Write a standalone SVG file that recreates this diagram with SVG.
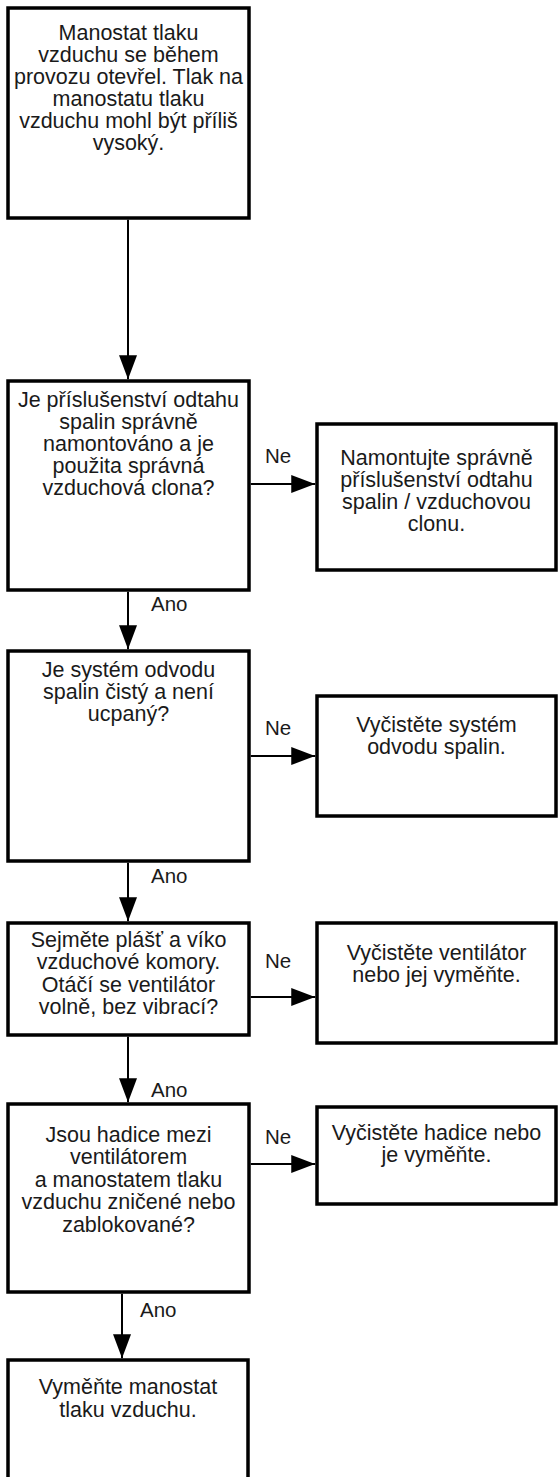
<svg xmlns="http://www.w3.org/2000/svg" width="558" height="1477" viewBox="0 0 558 1477">
  <style>
    .box { fill: #ffffff; stroke: #000000; stroke-width: 3.5; }
    .txt { font-family: "Liberation Sans", Arial, Helvetica, sans-serif; font-size: 21.5px; fill: #1a1a1a; text-anchor: middle; }
    .lbl { font-family: "Liberation Sans", Arial, Helvetica, sans-serif; font-size: 20.5px; fill: #1a1a1a; }
    .mid { text-anchor: middle; }
    .con { fill: none; stroke: #000000; stroke-width: 2; marker-end: url(#arrow); }
  </style>
  <defs>
    <marker id="arrow" viewBox="0 0 24 18" refX="24" refY="9" markerWidth="24" markerHeight="18" markerUnits="userSpaceOnUse" orient="auto">
      <path d="M0,0 L24,9 L0,18 Z" fill="#000000"/>
    </marker>
  </defs>
  <rect width="558" height="1477" fill="#ffffff"/>

  <g id="connectors">
    <line class="con" x1="128" y1="219.75" x2="128" y2="379.25"/>
    <line class="con" x1="250.75" y1="484" x2="315.25" y2="484"/>
    <text class="lbl mid" x="278" y="463">Ne</text>
    <line class="con" x1="128" y1="591.75" x2="128" y2="649.25"/>
    <text class="lbl" x="151" y="611">Ano</text>
    <line class="con" x1="250.75" y1="756" x2="315.25" y2="756"/>
    <text class="lbl mid" x="278" y="735">Ne</text>
    <line class="con" x1="128" y1="862.75" x2="128" y2="921.25"/>
    <text class="lbl" x="151" y="883">Ano</text>
    <line class="con" x1="250.75" y1="997" x2="315.25" y2="997"/>
    <text class="lbl mid" x="278" y="968">Ne</text>
    <line class="con" x1="128" y1="1036.75" x2="128" y2="1102.25"/>
    <text class="lbl" x="151" y="1097">Ano</text>
    <line class="con" x1="250.75" y1="1164" x2="315.25" y2="1164"/>
    <text class="lbl mid" x="278" y="1144">Ne</text>
    <line class="con" x1="122" y1="1293.75" x2="122" y2="1358.25"/>
    <text class="lbl" x="140" y="1317">Ano</text>
  </g>

  <g id="n1">
    <rect class="box" x="8" y="8" width="241" height="210"/>
    <text class="txt" x="128.5" y="39.5">Manostat tlaku</text>
    <text class="txt" x="128.5" y="61.6">vzduchu se během</text>
    <text class="txt" x="128.5" y="83.7">provozu otevřel. Tlak na</text>
    <text class="txt" x="128.5" y="105.8">manostatu tlaku</text>
    <text class="txt" x="128.5" y="127.9">vzduchu mohl být příliš</text>
    <text class="txt" x="128.5" y="150">vysoký.</text>
  </g>

  <g id="n2">
    <rect class="box" x="8" y="381" width="241" height="209"/>
    <text class="txt" x="128.5" y="406.5">Je příslušenství odtahu</text>
    <text class="txt" x="128.5" y="428.5">spalin správně</text>
    <text class="txt" x="128.5" y="450.5">namontováno a je</text>
    <text class="txt" x="128.5" y="472.5">použita správná</text>
    <text class="txt" x="128.5" y="494.5">vzduchová clona?</text>
  </g>

  <g id="n3">
    <rect class="box" x="317" y="424" width="239" height="146"/>
    <text class="txt" x="436.5" y="465">Namontujte správně</text>
    <text class="txt" x="436.5" y="487">příslušenství odtahu</text>
    <text class="txt" x="436.5" y="509">spalin / vzduchovou</text>
    <text class="txt" x="436.5" y="531">clonu.</text>
  </g>

  <g id="n4">
    <rect class="box" x="8" y="651" width="241" height="210"/>
    <text class="txt" x="128.5" y="677">Je systém odvodu</text>
    <text class="txt" x="128.5" y="699">spalin čistý a není</text>
    <text class="txt" x="128.5" y="721">ucpaný?</text>
  </g>

  <g id="n5">
    <rect class="box" x="317" y="696" width="239" height="120"/>
    <text class="txt" x="436.5" y="732">Vyčistěte systém</text>
    <text class="txt" x="436.5" y="754">odvodu spalin.</text>
  </g>

  <g id="n6">
    <rect class="box" x="8" y="923" width="241" height="112"/>
    <text class="txt" x="128.5" y="947">Sejměte plášť a víko</text>
    <text class="txt" x="128.5" y="969">vzduchové komory.</text>
    <text class="txt" x="128.5" y="991.5">Otáčí se ventilátor</text>
    <text class="txt" x="128.5" y="1013.5">volně, bez vibrací?</text>
  </g>

  <g id="n7">
    <rect class="box" x="317" y="923" width="239" height="120"/>
    <text class="txt" x="436.5" y="960">Vyčistěte ventilátor</text>
    <text class="txt" x="436.5" y="982">nebo jej vyměňte.</text>
  </g>

  <g id="n8">
    <rect class="box" x="8" y="1104" width="241" height="188"/>
    <text class="txt" x="128.5" y="1141.5">Jsou hadice mezi</text>
    <text class="txt" x="128.5" y="1164">ventilátorem</text>
    <text class="txt" x="128.5" y="1186.5">a manostatem tlaku</text>
    <text class="txt" x="128.5" y="1209">vzduchu zničené nebo</text>
    <text class="txt" x="128.5" y="1231.5">zablokované?</text>
  </g>

  <g id="n9">
    <rect class="box" x="317" y="1107" width="239" height="97"/>
    <text class="txt" x="436.5" y="1139.5">Vyčistěte hadice nebo</text>
    <text class="txt" x="436.5" y="1162">je vyměňte.</text>
  </g>

  <g id="n10">
    <rect class="box" x="8" y="1360" width="240" height="140"/>
    <text class="txt" x="128" y="1394">Vyměňte manostat</text>
    <text class="txt" x="128" y="1417">tlaku vzduchu.</text>
  </g>
</svg>
